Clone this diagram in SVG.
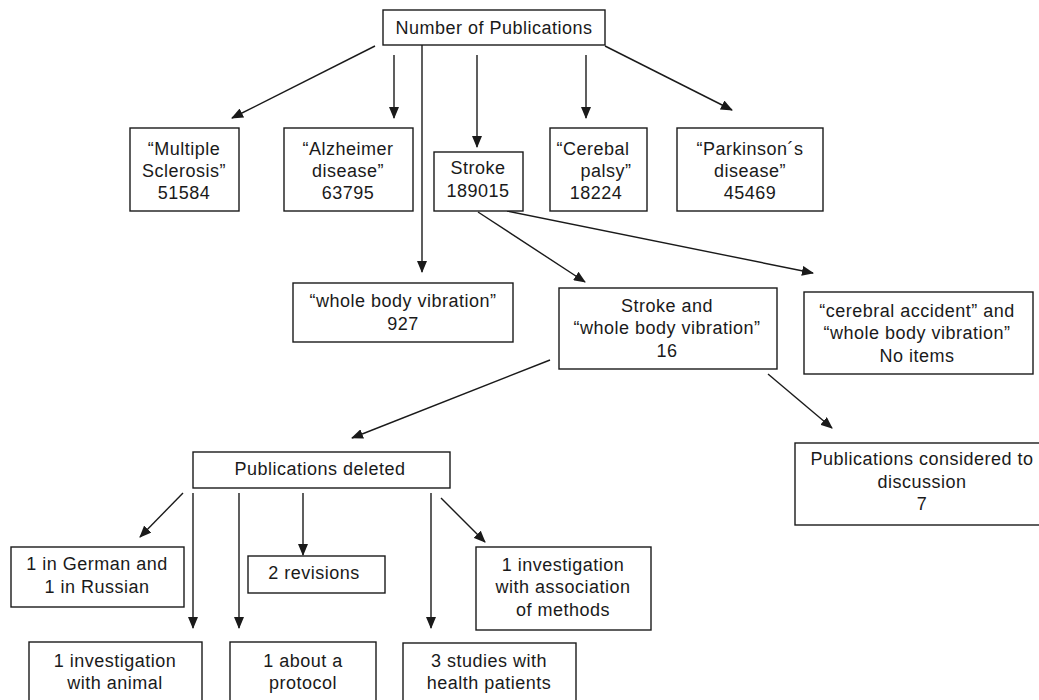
<svg xmlns="http://www.w3.org/2000/svg" width="1039" height="700" viewBox="0 0 1039 700">
<style>
.box{fill:#fff;stroke:#1a1a1a;stroke-width:1.4}
text{font-family:"Liberation Sans",Arial,sans-serif;font-size:18px;fill:#1a1a1a;text-anchor:middle;letter-spacing:0.5px}
.ln{stroke:#1a1a1a;stroke-width:1.4;fill:none;marker-end:url(#ah)}
</style>
<defs>
<marker id="ah" markerUnits="userSpaceOnUse" markerWidth="12" markerHeight="10" refX="11" refY="5" orient="auto">
<path d="M0,0 L12,5 L0,10 Z" fill="#1a1a1a"/>
</marker>
</defs>
<rect width="1039" height="700" fill="#fff"/>
<g id="connectors">
<line class="ln" x1="375" y1="46" x2="232" y2="118"/>
<line class="ln" x1="394" y1="55" x2="394" y2="118"/>
<line class="ln" x1="422" y1="45" x2="422" y2="272"/>
<line class="ln" x1="477" y1="55" x2="477" y2="147"/>
<line class="ln" x1="586" y1="55" x2="586" y2="118"/>
<line class="ln" x1="605" y1="46" x2="732" y2="110"/>
<line class="ln" x1="478" y1="212" x2="585" y2="282"/>
<line class="ln" x1="507" y1="211" x2="813" y2="273"/>
<line class="ln" x1="550" y1="360" x2="352" y2="438"/>
<line class="ln" x1="768" y1="374" x2="832" y2="428"/>
<line class="ln" x1="183" y1="493" x2="140" y2="537"/>
<line class="ln" x1="193" y1="493" x2="193" y2="628"/>
<line class="ln" x1="239" y1="493" x2="239" y2="628"/>
<line class="ln" x1="303" y1="493" x2="303" y2="555"/>
<line class="ln" x1="431" y1="493" x2="431" y2="628"/>
<line class="ln" x1="441" y1="498" x2="485" y2="542"/>
</g>
<g id="n-top"><rect class="box" x="383" y="10" width="222" height="35"/><text x="494" y="34">Number of Publications</text></g>
<g id="n-ms"><rect class="box" x="130" y="128" width="109" height="83"/><text x="184" y="155">“Multiple</text><text x="184" y="177">Sclerosis”</text><text x="184" y="199">51584</text></g>
<g id="n-alz"><rect class="box" x="284" y="128" width="129" height="83"/><text x="348" y="155">“Alzheimer</text><text x="348" y="177">disease”</text><text x="348" y="199">63795</text></g>
<g id="n-stroke"><rect class="box" x="434" y="152" width="89" height="59"/><text x="478" y="174">Stroke</text><text x="478" y="197">189015</text></g>
<g id="n-cp"><rect class="box" x="550" y="128" width="97" height="83"/><text x="593" y="155">“Cerebal</text><text x="606" y="177">palsy”</text><text x="596" y="199">18224</text></g>
<g id="n-pd"><rect class="box" x="677" y="128" width="146" height="83"/><text x="750" y="155">“Parkinson´s</text><text x="750" y="177">disease”</text><text x="750" y="199">45469</text></g>
<g id="n-wbv"><rect class="box" x="293" y="283" width="220" height="59"/><text x="403" y="307">“whole body vibration”</text><text x="403" y="330">927</text></g>
<g id="n-swbv"><rect class="box" x="559" y="288" width="218" height="81"/><text x="667" y="312">Stroke and</text><text x="667" y="334">“whole body vibration”</text><text x="667" y="357">16</text></g>
<g id="n-cawbv"><rect class="box" x="804" y="292" width="229" height="82"/><text x="917" y="317">“cerebral accident” and</text><text x="917" y="339">“whole body vibration”</text><text x="917" y="362">No items</text></g>
<g id="n-del"><rect class="box" x="193" y="452" width="257" height="36"/><text x="320" y="475">Publications deleted</text></g>
<g id="n-cons"><rect class="box" x="795" y="443" width="250" height="82"/><text x="922" y="465">Publications considered to</text><text x="922" y="488">discussion</text><text x="922" y="510">7</text></g>
<g id="n-lang"><rect class="box" x="11" y="547" width="173" height="60"/><text x="97" y="570">1 in German and</text><text x="97" y="593">1 in Russian</text></g>
<g id="n-rev"><rect class="box" x="248" y="556" width="137" height="37"/><text x="314" y="579">2 revisions</text></g>
<g id="n-assoc"><rect class="box" x="476" y="547" width="175" height="83"/><text x="563" y="571">1 investigation</text><text x="563" y="593">with association</text><text x="563" y="616">of methods</text></g>
<g id="n-animal"><rect class="box" x="29" y="642" width="173" height="70"/><text x="115" y="667">1 investigation</text><text x="115" y="689">with animal</text></g>
<g id="n-proto"><rect class="box" x="230" y="642" width="146" height="70"/><text x="303" y="667">1 about a</text><text x="303" y="689">protocol</text></g>
<g id="n-health"><rect class="box" x="403" y="643" width="173" height="70"/><text x="489" y="667">3 studies with</text><text x="489" y="689">health patients</text></g>
</svg>
